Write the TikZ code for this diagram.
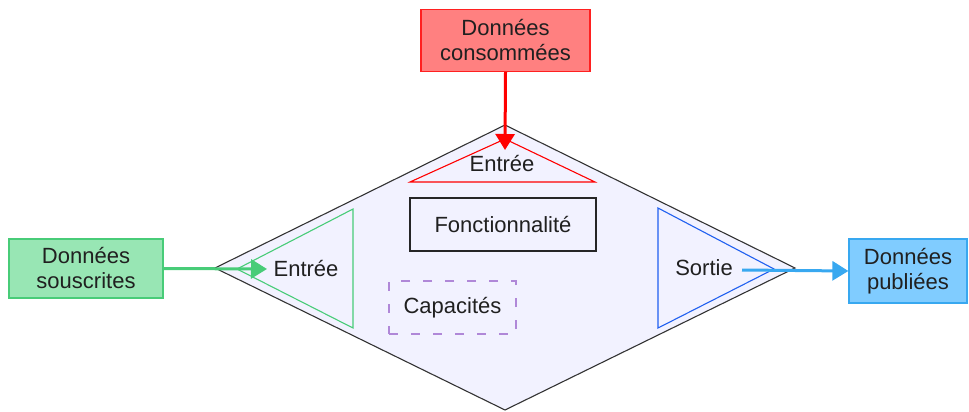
\documentclass[tikz,border=0pt]{standalone}
\usepackage{fontspec}
\setmainfont{Liberation Sans}
\usetikzlibrary{arrows.meta}
\definecolor{redfill}{HTML}{FF8080}
\definecolor{redline}{HTML}{FF2020}
\definecolor{greenfill}{HTML}{98E6B4}
\definecolor{greenline}{HTML}{48CC78}
\definecolor{bluefill}{HTML}{80CCFF}
\definecolor{blueline}{HTML}{38A8F0}
\definecolor{bluetri}{HTML}{2060F0}
\definecolor{diafill}{HTML}{F2F2FF}
\definecolor{purp}{HTML}{B088D8}
\definecolor{txt}{HTML}{202020}
\begin{document}
\begin{tikzpicture}[x=1pt,y=-1pt,
  lbl/.style={font=\fontsize{22}{25}\selectfont, text=txt, align=center, inner sep=0pt},
  databox/.style={lbl, draw, line width=1.2pt, minimum height=0pt},
  flow/.style={line width=3pt, -{Triangle[length=16pt,width=19pt]}},
  tri/.style={line width=1.1pt}
]
\useasboundingbox (0,0) rectangle (969,412);
% diamond
\path[fill=diafill, draw=black!80, line width=1.1pt] (505,125) -- (795,268) -- (505,410) -- (215,268) -- cycle;
% triangles
\draw[tri, draw=red] (505,139) -- (595,182) -- (410,182) -- cycle;
\draw[tri, draw=greenline] (237,269) -- (353,209) -- (353,328) -- cycle;
\draw[tri, draw=bluetri] (774,269) -- (658,208) -- (658,328) -- cycle;
% boxes
\node[databox, draw=redline, fill=redfill, minimum width=169pt, minimum height=62pt] (cons) at (505.5,40.5) {Données\\consommées};
\node[databox, draw=greenline, fill=greenfill, minimum width=154pt, minimum height=59pt] (sous) at (86,268.5) {Données\\souscrites};
\node[databox, draw=blueline, fill=bluefill, minimum width=118pt, minimum height=64pt] (pub) at (908,271) {Données\\publiées};
\node[databox, draw=black!85, line width=1.3pt, minimum width=186pt, minimum height=53pt] (fonc) at (503,224.5) {Fonctionnalité};
\node[lbl, draw=purp, line width=1.3pt, dash pattern=on 9pt off 13pt, minimum width=127pt, minimum height=53pt] (cap) at (452.5,307.5) {Capacités};
% labels
\node[lbl] (e1) at (502,164) {Entrée};
\node[lbl] (e2) at (306,269) {Entrée};
\node[lbl] (s1) at (704,268) {Sortie};
% arrows
\coordinate (t1) at (505,150);
\coordinate (t2) at (267,269);
\coordinate (s0) at (742,270);
\draw[flow, draw=red, fill=red] (cons.south) -- (t1);
\draw[flow, draw=greenline, fill=greenline] (sous.east) -- (t2);
\draw[flow, draw=blueline, fill=blueline] (s0) -- (pub.west);
\end{tikzpicture}
\end{document}
